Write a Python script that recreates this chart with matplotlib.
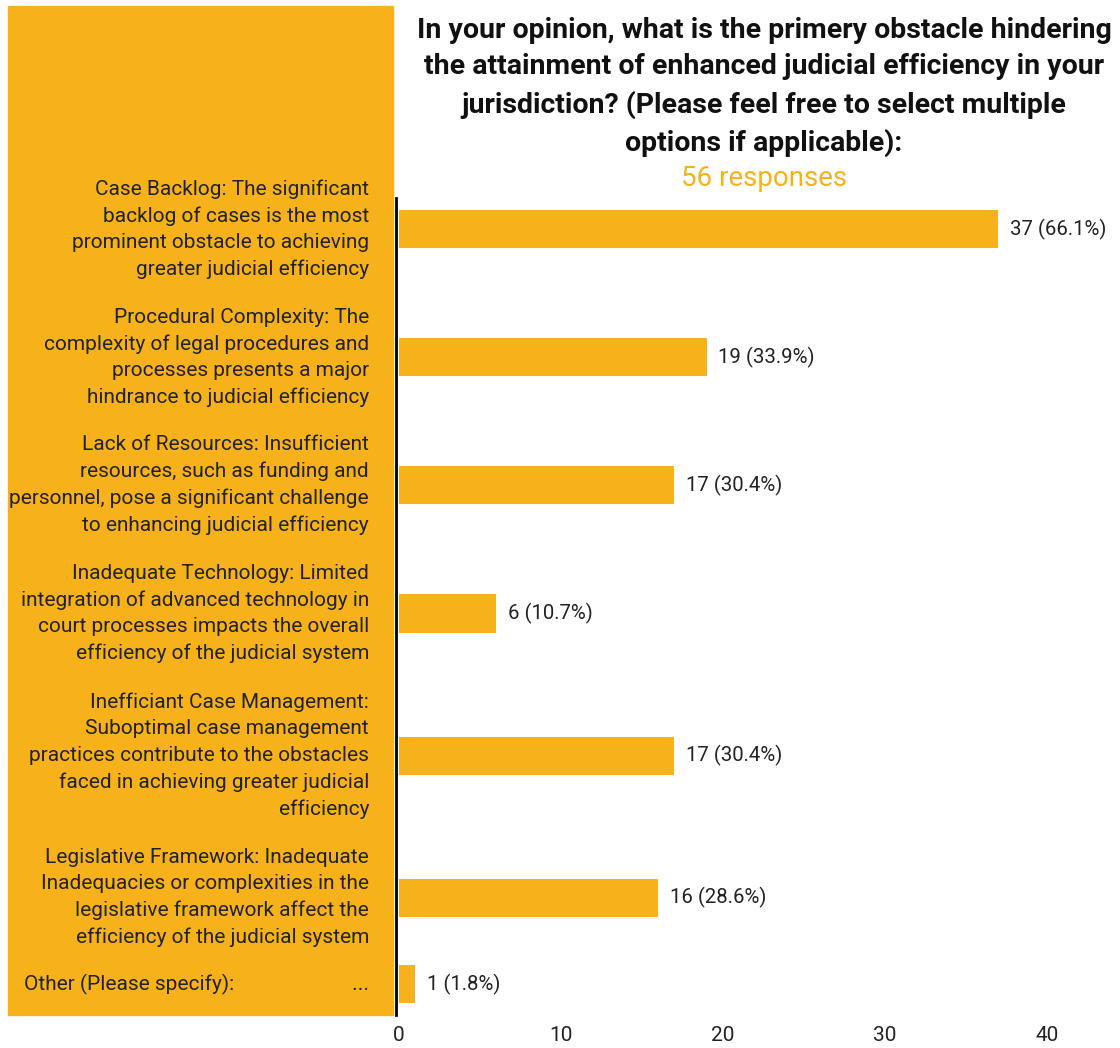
import numpy as np
import matplotlib.pyplot as plt
from matplotlib.patches import Rectangle

plt.rcParams['font.family'] = ['Roboto', 'DejaVu Sans']

title = ("In your opinion, what is the primery obstacle hindering\n"
         "the attainment of enhanced judicial efficiency in your\n"
         "jurisdiction? (Please feel free to select multiple\n"
         "options if applicable):")
subtitle = "56 responses"
total = 56

options = [
    "Case Backlog: The significant\nbacklog of cases is the most\nprominent obstacle to achieving\ngreater judicial efficiency",
    "Procedural Complexity: The\ncomplexity of legal procedures and\nprocesses presents a major\nhindrance to judicial efficiency",
    "Lack of Resources: Insufficient\nresources, such as funding and\npersonnel, pose a significant challenge\nto enhancing judicial efficiency",
    "Inadequate Technology: Limited\nintegration of advanced technology in\ncourt processes impacts the overall\nefficiency of the judicial system",
    "Inefficiant Case Management:\nSuboptimal case management\npractices contribute to the obstacles\nfaced in achieving greater judicial\nefficiency",
    "Legislative Framework: Inadequate\nInadequacies or complexities in the\nlegislative framework affect the\nefficiency of the judicial system",
    "Other (Please specify):" + " " * 23 + "...",
]
counts = [37, 19, 17, 6, 17, 16, 1]

orange = '#F7B21B'
W, H = 1120, 1048

fig = plt.figure(figsize=(W / 100, H / 100), dpi=100)

# orange panel behind the option labels
fig.patches.append(Rectangle((8 / W, 1 - 1015 / H), 385 / W, 1009 / H,
                             transform=fig.transFigure, color=orange, zorder=-1))

ax = fig.add_axes([399 / W, 1 - 1015 / H, 711 / W, 817 / H])
ax.set_facecolor('none')
ax.set_zorder(2)

# slot spacing grows with the number of label lines
nlines = np.array([o.count('\n') + 1 for o in options])
gaps = 28 * (nlines[:-1] + nlines[1:]) / 2 + 16
ypos = np.concatenate([[0], np.cumsum(gaps)])

bars = ax.barh(ypos, counts, height=38, color=orange, zorder=2)
for b, c in zip(bars, counts):
    ax.text(b.get_width() + 0.7, b.get_y() + b.get_height() / 2,
            f"{c} ({c / total * 100:.1f}%)", va='center', ha='left',
            fontsize=14.7, color='#222222')

# option labels, right aligned inside the orange panel
for y, lab in zip(ypos, options):
    ax.annotate(lab, xy=(0, y), xycoords=('axes fraction', 'data'),
                xytext=(-30, 0), textcoords='offset pixels',
                ha='right', va='center', fontsize=15, color='#222222',
                linespacing=1.48, annotation_clip=False)

ax.set_ylim(ypos[-1] + 31, -31)
ax.set_xlim(0, 711 / 16.2)
ax.set_xticks([0, 10, 20, 30, 40])
ax.tick_params(axis='x', length=0, labelsize=15, pad=8, colors='#222222')
ax.set_yticks([])
for s in ['top', 'right', 'bottom']:
    ax.spines[s].set_visible(False)
ax.spines['left'].set_linewidth(2)
ax.spines['left'].set_position(('outward', 2))

fig.text(764 / W, 1 - 17 / H, title, ha='center', va='top', fontsize=20.5,
         fontweight='bold', linespacing=1.45, color='#111111')
fig.text(764 / W, 1 - 178 / H, subtitle, ha='center', va='center',
         fontsize=20, color=orange)

fig.savefig('out.png', dpi=100)
